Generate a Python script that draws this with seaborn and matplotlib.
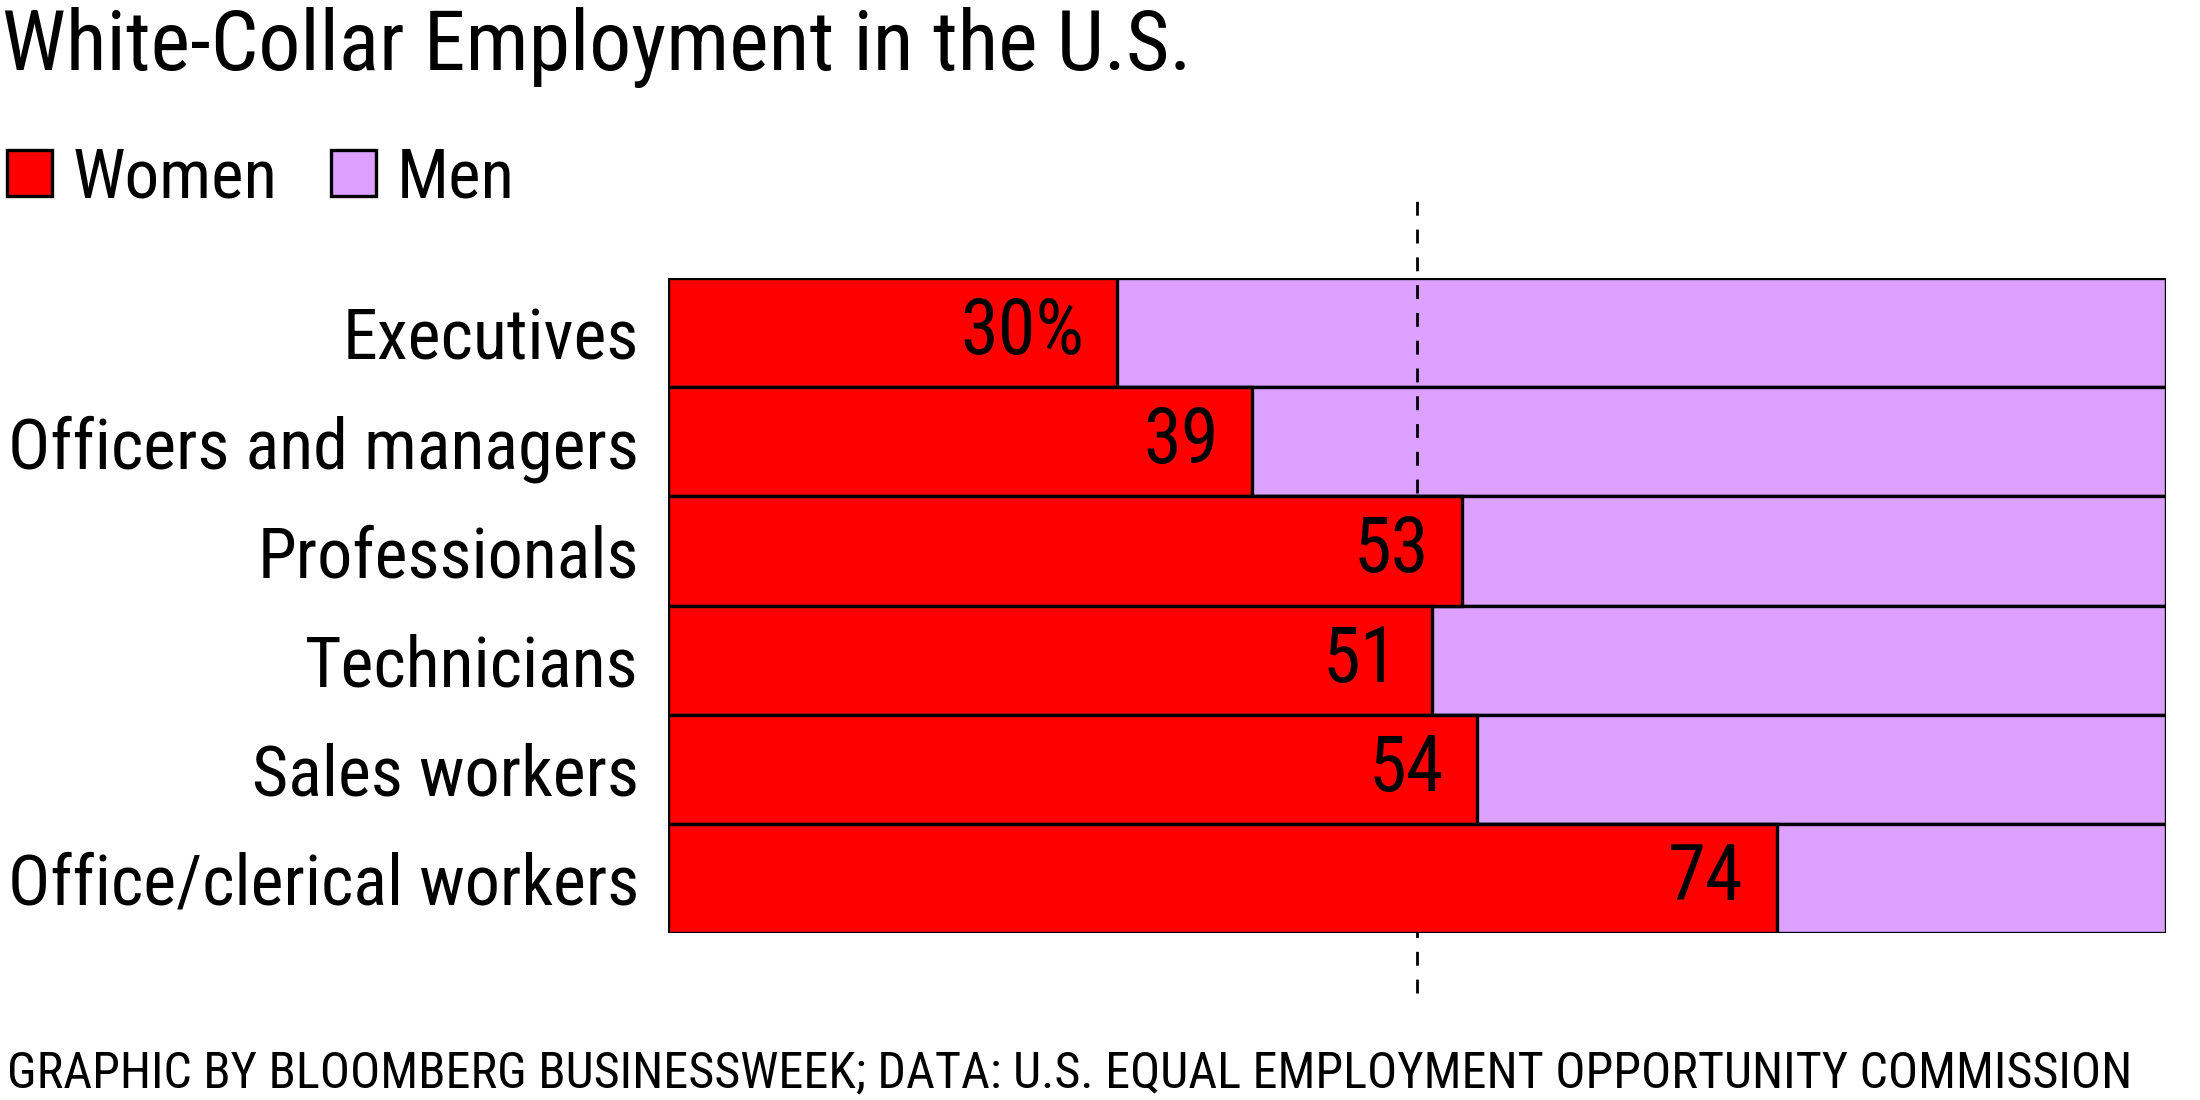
import matplotlib
matplotlib.use("Agg")
import matplotlib.pyplot as plt
import seaborn as sns
import pandas as pd
from matplotlib.patches import Patch

categories = ["Executives", "Officers and managers", "Professionals",
              "Technicians", "Sales workers", "Office/clerical workers"]
women = [30, 39, 53, 51, 54, 74]
total = [100, 100, 100, 100, 100, 100]
value_labels = ["30%", "39", "53", "51", "54", "74"]

title = "White-Collar Employment in the U.S."
footer = "GRAPHIC BY BLOOMBERG BUSINESSWEEK; DATA: U.S. EQUAL EMPLOYMENT OPPORTUNITY COMMISSION"

RED = "#fe0000"
PURPLE = "#dca0fe"

sns.set_theme(style="white")
FAM = ["Roboto Condensed", "Liberation Sans", "DejaVu Sans"]
plt.rcParams["font.family"] = FAM
plt.rcParams["text.color"] = "black"
plt.rcParams["legend.labelcolor"] = "black"

df = pd.DataFrame({"category": categories, "women": women, "total": total})

fig = plt.figure(figsize=(22, 11), dpi=100)
renderer = fig.canvas.get_renderer()


def fit_size(text, target_px):
    t = fig.text(0, 0, text, fontsize=100)
    w = t.get_window_extent(renderer=renderer).width
    t.remove()
    return 100 * target_px / w


title_fs = fit_size(title, 1190)
footer_fs = fit_size(footer, 2126)
tick_fs = fit_size("Officers and managers", 631)
val_fs = fit_size("30%", 124)
leg_fs = fit_size("Women", 205)

ax = fig.add_axes([668 / 2200, 1 - 933 / 1100, (2166 - 668) / 2200, (933 - 278) / 1100])

sns.barplot(data=df, y="category", x="total", color=PURPLE, width=1.0,
            edgecolor="black", linewidth=2.4, saturation=1, ax=ax, zorder=1)
ax.axvline(50, ymin=-0.092, ymax=1.125, color="black", linestyle=(0, (5, 5)),
           linewidth=2, zorder=2, clip_on=False)
sns.barplot(data=df, y="category", x="women", color=RED, width=1.0,
            edgecolor="black", linewidth=2.4, saturation=1, ax=ax, zorder=3)

for i, (v, lab) in enumerate(zip(women, value_labels)):
    ax.annotate(lab, xy=(v, i), xytext=(-24, 0), textcoords="offset points",
                ha="right", va="center", fontsize=val_fs, color="black", zorder=5)

ax.set_xlim(0, 100)
ax.set_ylim(5.5, -0.5)
ax.set_xlabel("")
ax.set_ylabel("")
ax.set_xticks([])
ax.tick_params(axis="y", length=0, pad=21, labelsize=tick_fs, labelcolor="black")
for s in ax.spines.values():
    s.set_visible(False)

fig.text(0.001, 1 - 70 / 1100, title, fontsize=title_fs, color="black", va="baseline", ha="left")
fig.text(0.003, 1 - 1087 / 1100, footer, fontsize=footer_fs, color="black", va="baseline", ha="left")

handles = [Patch(facecolor=RED, edgecolor="black", linewidth=2.4, label="Women"),
           Patch(facecolor=PURPLE, edgecolor="black", linewidth=2.4, label="Men")]
em_px = leg_fs * 100 / 72
fig.legend(handles=handles, loc="upper left", bbox_to_anchor=(0.003, 1 - 145 / 1100),
           ncol=2, frameon=False, fontsize=leg_fs, labelcolor="black",
           handlelength=45 / em_px, handleheight=45 / em_px,
           handletextpad=21 / em_px, columnspacing=53 / em_px,
           borderpad=0, borderaxespad=0)

fig.savefig("out.png", dpi=100, facecolor="white")
